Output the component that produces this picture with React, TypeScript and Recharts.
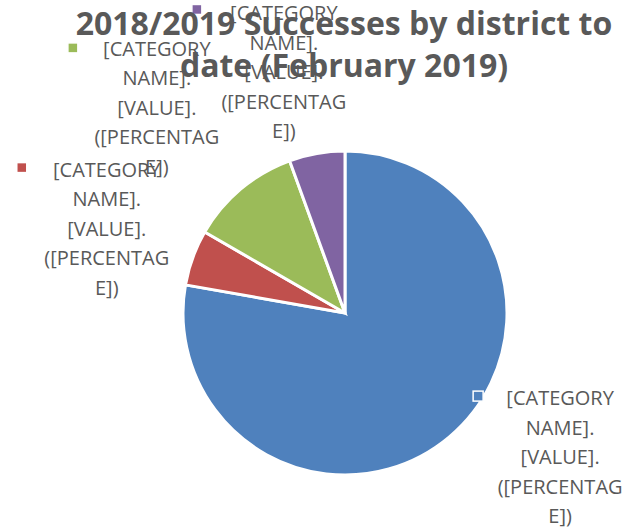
import { Cell, Pie, PieChart } from "recharts";

const districts = ["District A", "District B", "District C", "District D"];
const successes = [14, 1, 2, 1];
const sliceColors = ["#4F81BD", "#C0504D", "#9BBB59", "#8064A2"];
const labelLines = ["[CATEGORY", "NAME].", "[VALUE].", "([PERCENTAG", "E])"];
const titleLines = ["2018/2019 Successes by district to", "date (February 2019)"];

const data = districts.map((name, i) => ({ name, value: successes[i] }));

// where each data label sits, relative to the slice edge at its mid angle
const labelOffsets = [
  { mx: 29, my: -41, tx: 111, ty: -39 },
  { mx: -171, my: -90, tx: -86, ty: -88 },
  { mx: -168, my: -141, tx: -84, ty: -140 },
  { mx: -120, my: -144, tx: -33, ty: -140 },
];

const renderLabel = (props: any) => {
  const { cx, cy, midAngle, outerRadius, index } = props;
  const rad = Math.PI / 180;
  const ex = cx + outerRadius * Math.cos(-midAngle * rad);
  const ey = cy + outerRadius * Math.sin(-midAngle * rad);
  const o = labelOffsets[index];
  return (
    <g key={`lbl-${index}`}>
      <rect
        x={ex + o.mx - 5}
        y={ey + o.my - 5}
        width={10}
        height={10}
        fill={sliceColors[index]}
        stroke="#fff"
        strokeWidth={1.5}
      />
      {labelLines.map((line, j) => (
        <text
          key={j}
          x={ex + o.tx}
          y={ey + o.ty + 7 + j * 29.5}
          textAnchor="middle"
          fill="#595959"
          fontSize={20}
          fontFamily="'Open Sans', sans-serif"
        >
          {line}
        </text>
      ))}
    </g>
  );
};

const App = () => {
  return (
    <div style={{ position: "absolute", left: 0, top: 0, width: 641, height: 530 }}>
      <PieChart width={641} height={530} margin={{ top: 0, right: 0, bottom: 0, left: 0 }}>
        <Pie
          data={data}
          dataKey="value"
          nameKey="name"
          cx={345}
          cy={313}
          outerRadius={162}
          startAngle={90}
          endAngle={-270}
          stroke="#fff"
          strokeWidth={3}
          labelLine={false}
          label={renderLabel}
          isAnimationActive={false}
        >
          {data.map((d, i) => (
            <Cell key={d.name} fill={sliceColors[i]} />
          ))}
        </Pie>
      </PieChart>
      <div
        style={{
          position: "absolute",
          left: 44,
          top: 2,
          width: 600,
          textAlign: "center",
          fontFamily: "'Open Sans', sans-serif",
          fontWeight: 700,
          fontSize: 32,
          lineHeight: "42px",
          color: "#595959",
          pointerEvents: "none",
        }}
      >
        {titleLines.map((t) => (
          <div key={t}>{t}</div>
        ))}
      </div>
    </div>
  );
};

export default App;
